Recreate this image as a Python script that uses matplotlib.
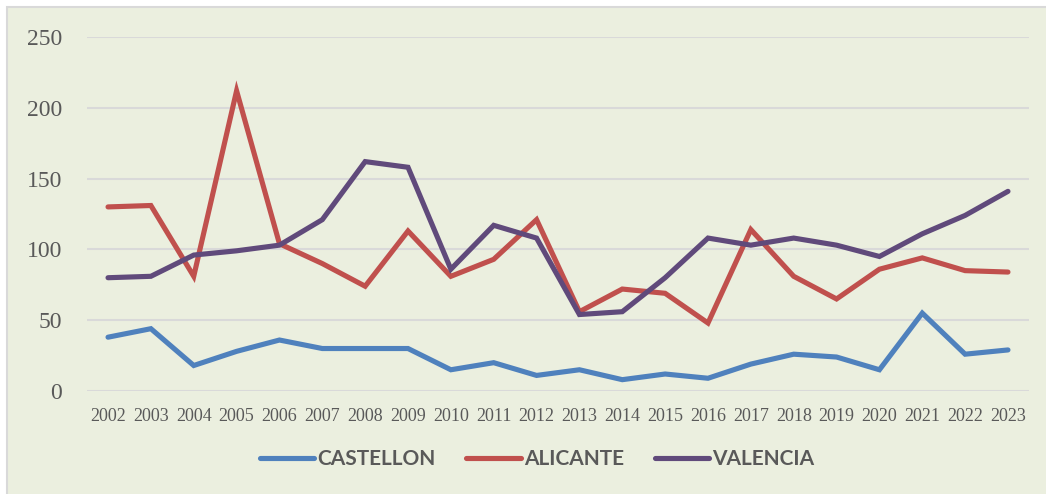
import matplotlib.pyplot as plt
from matplotlib.patches import Rectangle

years = [str(y) for y in range(2002, 2024)]
castellon = [38, 44, 18, 28, 36, 30, 30, 30, 15, 20, 11, 15, 8, 12, 9, 19, 26, 24, 15, 55, 26, 29]
alicante = [130, 131, 81, 212, 104, 90, 74, 113, 81, 93, 121, 56, 72, 69, 48, 114, 81, 65, 86, 94, 85, 84]
valencia = [80, 81, 96, 99, 103, 121, 162, 158, 86, 117, 108, 54, 56, 80, 108, 103, 108, 103, 95, 111, 124, 141]

series = [("CASTELLON", castellon, "#4F81BD"),
          ("ALICANTE", alicante, "#C0504D"),
          ("VALENCIA", valencia, "#604A7B")]

W, H = 1046, 494
fig = plt.figure(figsize=(W / 100, H / 100), dpi=100)
fig.patch.set_facecolor("white")

# chart area background, border only shows on the left/top sides
bg = Rectangle((7 / W, -0.05), 1.05, 1.05 - 7 / H, transform=fig.transFigure,
               facecolor="#EBEFDF", edgecolor="#D9D9D9", linewidth=1.5, zorder=-10)
fig.patches.append(bg)

left, right, top, bottom = 86.6, 1029.4, 37, 391
ax = fig.add_axes([left / W, 1 - bottom / H, (right - left) / W, (bottom - top) / H])
ax.set_facecolor("none")

x = list(range(len(years)))
for name, vals, color in series:
    ax.plot(x, vals, color=color, linewidth=3.7, label=name,
            solid_capstyle="round", solid_joinstyle="miter")

ax.set_xlim(-0.5, len(years) - 0.5)
ax.set_ylim(0, 250)
ax.set_yticks([0, 50, 100, 150, 200, 250])
ax.set_xticks(x)
ax.set_xticklabels(years)
ax.grid(axis="y", color="#D9D9D9", linewidth=1.5)
ax.set_axisbelow(True)
for s in ax.spines.values():
    s.set_visible(False)
ax.tick_params(axis="both", length=0)
ax.tick_params(axis="y", pad=17.5, labelsize=17, labelcolor="#595959")
ax.tick_params(axis="x", pad=12, labelsize=13, labelcolor="#595959")
for lbl in ax.get_xticklabels() + ax.get_yticklabels():
    lbl.set_fontfamily("Liberation Serif")

leg = ax.legend(loc="center", bbox_to_anchor=((537 - left) / (right - left), (391 - 459) / (bottom - top)),
                ncol=3, frameon=False, handlelength=2.6, handletextpad=0.15,
                columnspacing=1.5, prop={"family": "Lato", "weight": "bold", "size": 15})
for t in leg.get_texts():
    t.set_color("#595959")

fig.savefig("out.png", dpi=100)
